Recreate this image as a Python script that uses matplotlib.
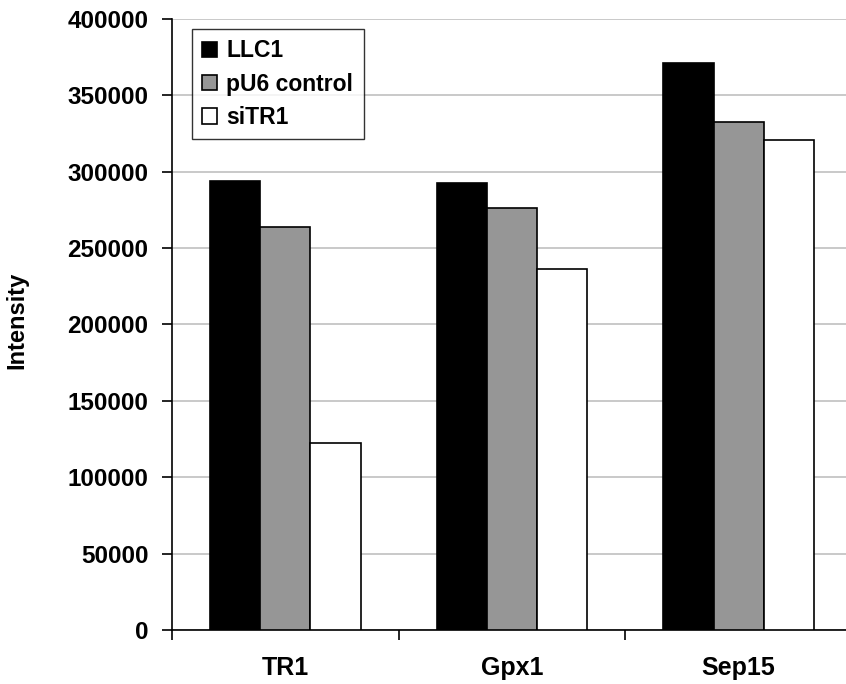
import numpy as np
import matplotlib.pyplot as plt

plt.rcParams['font.family'] = ['Liberation Sans', 'DejaVu Sans']
plt.rcParams['font.weight'] = 'bold'

genes = ["TR1", "Gpx1", "Sep15"]
series = ["LLC1", "pU6 control", "siTR1"]
llc1 = [293900, 292600, 371400]
pu6 = [263800, 276300, 332800]
sitr1 = [122400, 236300, 320800]
colors = ["#000000", "#969696", "#ffffff"]

fig = plt.figure(figsize=(8.46, 6.84), dpi=100)
ax = fig.add_axes([172/846, 54/684, 680/846, 611/684])

x = np.arange(len(genes))
w = 0.222
for i, (vals, name) in enumerate(zip([llc1, pu6, sitr1], series)):
    ax.bar(x + (i - 1) * w, vals, w, color=colors[i], edgecolor="black",
           linewidth=1.2, label=name, zorder=3)

ax.set_xlim(-0.5, 2.5)
ax.set_ylim(0, 400000)
ax.set_yticks(np.arange(0, 400001, 50000))
ax.set_yticklabels([str(v) for v in range(0, 400001, 50000)], fontsize=17.5, fontweight="bold")
ax.set_xticks([-0.5, 0.5, 1.5, 2.5])
ax.set_xticklabels([])
ax.set_xticks(x, minor=True)
ax.set_xticklabels(genes, minor=True, fontsize=18, fontweight="bold")
ax.tick_params(axis="x", which="minor", length=0, pad=19)
ax.tick_params(axis="x", which="major", direction="out", length=7, width=1.2)
ax.tick_params(axis="y", direction="out", length=7, width=1.2, pad=10)
ax.grid(axis="y", color="#c0c0c0", linewidth=1.2, zorder=0)
ax.set_axisbelow(True)
for s in ["top", "right"]:
    ax.spines[s].set_visible(False)
for s in ["left", "bottom"]:
    ax.spines[s].set_linewidth(1.2)

fig.text(17/846, 1 - 320/684, "Intensity", rotation=90, fontsize=17, fontweight="bold",
         ha="center", va="center")

leg = ax.legend(loc="upper left", bbox_to_anchor=(192/846, 1 - 29/684),
                bbox_transform=fig.transFigure, fontsize=16.5, frameon=True, fancybox=False,
                handlelength=0.65, handleheight=0.65, handletextpad=0.4, borderpad=0.45,
                labelspacing=0.45, borderaxespad=0)
leg.get_frame().set_edgecolor("black")
leg.get_frame().set_linewidth(1.0)
for t in leg.get_texts():
    t.set_fontweight("bold")

fig.savefig("out.png", dpi=100)
